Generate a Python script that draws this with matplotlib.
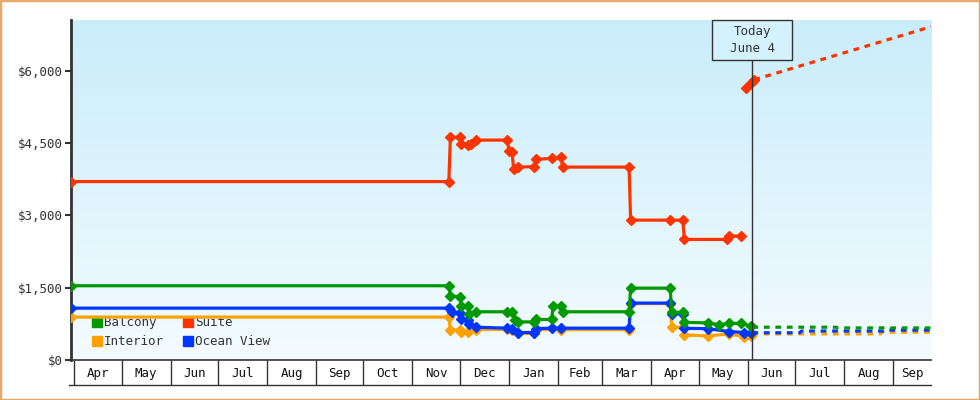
import matplotlib
matplotlib.use("Agg")
import matplotlib.pyplot as plt
import matplotlib.dates as mdates
from matplotlib.patches import Patch, Rectangle
from matplotlib.lines import Line2D
import numpy as np
import pandas as pd

# ---- price history ----
suite_dates = ["2022-03-30", "2022-11-24", "2022-11-25", "2022-12-01", "2022-12-02",
               "2022-12-06", "2022-12-08", "2022-12-11", "2022-12-31", "2023-01-01",
               "2023-01-03", "2023-01-04", "2023-01-07", "2023-01-17", "2023-01-18",
               "2023-01-28", "2023-02-03", "2023-02-04", "2023-03-18", "2023-03-19",
               "2023-04-13", "2023-04-21", "2023-04-22", "2023-05-19", "2023-05-20",
               "2023-05-28"]
suite_prices = [3700, 3700, 4620, 4620, 4480, 4460, 4480, 4560, 4560, 4340,
                4320, 3960, 4000, 4010, 4160, 4180, 4200, 4000, 4000, 2900,
                2900, 2900, 2500, 2500, 2570, 2570]

balcony_dates = ["2022-03-30", "2022-11-24", "2022-11-25", "2022-12-01", "2022-12-02",
                 "2022-12-06", "2022-12-07", "2022-12-11", "2022-12-31", "2023-01-03",
                 "2023-01-05", "2023-01-07", "2023-01-17", "2023-01-18", "2023-01-28",
                 "2023-01-29", "2023-02-03", "2023-02-04", "2023-03-18", "2023-03-19",
                 "2023-04-13", "2023-04-14", "2023-04-21", "2023-04-22", "2023-05-07",
                 "2023-05-14", "2023-05-20", "2023-05-28", "2023-06-03"]
balcony_prices = [1540, 1540, 1330, 1310, 1110, 1110, 960, 1000, 1000, 1000,
                  820, 790, 790, 840, 840, 1110, 1110, 1000, 1000, 1490,
                  1490, 990, 990, 780, 770, 730, 760, 760, 700]

ocean_dates = ["2022-03-30", "2022-11-24", "2022-11-26", "2022-12-01", "2022-12-02",
               "2022-12-06", "2022-12-07", "2022-12-11", "2022-12-31", "2023-01-03",
               "2023-01-07", "2023-01-17", "2023-01-18", "2023-01-28", "2023-02-03",
               "2023-03-18", "2023-03-19", "2023-04-13", "2023-04-14", "2023-04-21",
               "2023-04-22", "2023-05-07", "2023-05-20", "2023-05-30", "2023-06-03"]
ocean_prices = [1075, 1075, 1000, 970, 845, 830, 740, 680, 660, 650,
                570, 570, 650, 660, 660, 660, 1180, 1180, 960, 960,
                657, 650, 590, 570, 560]

interior_dates = ["2022-03-30", "2022-11-24", "2022-11-25", "2022-12-01", "2022-12-02",
                  "2022-12-06", "2022-12-11", "2022-12-31", "2023-01-03", "2023-01-07",
                  "2023-01-17", "2023-01-18", "2023-02-03", "2023-03-18", "2023-03-19",
                  "2023-04-13", "2023-04-14", "2023-04-21", "2023-04-22", "2023-05-07",
                  "2023-05-20", "2023-05-30", "2023-06-03"]
interior_prices = [890, 890, 620, 620, 590, 590, 630, 635, 630, 550,
                   550, 630, 630, 630, 1170, 1170, 675, 675, 520, 500,
                   540, 485, 500]

# ---- forecast (dashed) ----
suite_fc_dates = ["2023-05-31", "2023-06-03", "2023-06-05", "2023-09-25"]
suite_fc_prices = [5650, 5740, 5810, 6910]
balcony_fc_dates = ["2023-06-04", "2023-07-27", "2023-07-28", "2023-09-25"]
balcony_fc_prices = [680, 680, 665, 665]
ocean_fc_dates = ["2023-06-04", "2023-07-04", "2023-07-05", "2023-08-26", "2023-08-27", "2023-09-25"]
ocean_fc_prices = [565, 565, 600, 600, 620, 620]
interior_fc_dates = ["2023-06-04", "2023-08-24", "2023-08-25", "2023-09-25"]
interior_fc_prices = [540, 540, 575, 575]

today = "2023-06-04"
today_label = "Today\nJune 4"
y_ticks = [0, 1500, 3000, 4500, 6000]
y_tick_labels = ["$0", "$1,500", "$3,000", "$4,500", "$6,000"]
x_start, x_end = "2022-03-30", "2023-09-25"
month_starts = pd.date_range("2022-04-01", "2023-09-01", freq="MS")

series = [
    ("Interior", "#ffa200", interior_dates, interior_prices, interior_fc_dates, interior_fc_prices),
    ("Ocean View", "#0036ff", ocean_dates, ocean_prices, ocean_fc_dates, ocean_fc_prices),
    ("Balcony", "#009a00", balcony_dates, balcony_prices, balcony_fc_dates, balcony_fc_prices),
    ("Suite", "#ff3300", suite_dates, suite_prices, suite_fc_dates, suite_fc_prices),
]

plt.rcParams["font.family"] = ["DejaVu Sans Mono"]
txt = "#333333"

fig = plt.figure(figsize=(9.8, 4.0), dpi=100)
ax = fig.add_axes([71 / 980, 40 / 400, 860 / 980, 340 / 400])

# background gradient
grad = np.linspace(0, 1, 256).reshape(-1, 1)
top_c = np.array([0.79, 0.93, 0.985])
bot_c = np.array([0.955, 0.985, 1.0])
img = top_c * (1 - grad[..., None]) + bot_c * grad[..., None]
ax.imshow(img, extent=[0, 1, 0, 1], transform=ax.transAxes, aspect="auto", zorder=0)

for name, col, d, p, fd, fp in series:
    ax.plot(pd.to_datetime(d), p, color=col, lw=2.3, marker="D", ms=5, zorder=3)
    ax.plot(pd.to_datetime(fd), fp, color=col, lw=2.3, ls=(0, (1.8, 1.8)), zorder=3)
    if name == "Suite":
        ax.plot(pd.to_datetime(fd[:3]), fp[:3], color=col, lw=2.3, marker="D", ms=5, zorder=3)

ax.set_xlim(pd.Timestamp(x_start), pd.Timestamp(x_end))
ax.set_ylim(0, 7050)

# y axis
ax.set_yticks(y_ticks)
ax.set_yticklabels(y_tick_labels, fontsize=9, color=txt)
ax.tick_params(axis="y", length=4, width=1.5, color=txt, pad=2)

# x axis as a row of month cells
ax.set_xticks(month_starts)
ax.set_xticklabels([])
ax.tick_params(axis="x", which="major", length=18, width=1, color=txt)
edges = list(month_starts) + [pd.Timestamp(x_end)]
mids = [edges[i] + (edges[i + 1] - edges[i]) / 2 for i in range(len(month_starts))]
ax.set_xticks(mids, minor=True)
ax.set_xticklabels([m.strftime("%b") for m in month_starts], minor=True, fontsize=9, color="#111")
ax.tick_params(axis="x", which="minor", length=0, pad=5)
ax.add_line(Line2D([-0.002, 1], [-25 / 340, -25 / 340], transform=ax.transAxes,
                   color=txt, lw=1, clip_on=False))

for s in ["top", "right"]:
    ax.spines[s].set_visible(False)
ax.spines["left"].set_color(txt)
ax.spines["left"].set_linewidth(2)
ax.spines["bottom"].set_color(txt)
ax.spines["bottom"].set_linewidth(1.2)

# today marker
x0, x1 = mdates.date2num(pd.Timestamp(x_start)), mdates.date2num(pd.Timestamp(x_end))
tx = (mdates.date2num(pd.Timestamp(today)) - x0) / (x1 - x0)
ax.axvline(pd.Timestamp(today), ymin=0, ymax=(340 - 40) / 340, color=txt, lw=1, zorder=4)
ax.add_patch(Rectangle((tx - 40 / 860, 1 - 40 / 340), 80 / 860, 40 / 340, transform=ax.transAxes,
                       facecolor="#d4f2fd", edgecolor=txt, lw=1, zorder=5, clip_on=False))
ax.text(tx, 1 - 20 / 340, today_label, transform=ax.transAxes, ha="center", va="center",
        fontsize=9, color=txt, linespacing=1.5, zorder=6)

# legend
handles = [Patch(color=c) for _, c, *_ in series]
by_name = {n: h for (n, *_), h in zip(series, handles)}
order = ["Balcony", "Interior", "Suite", "Ocean View"]
leg = ax.legend([by_name[n] for n in order], order, ncol=2, loc="lower left",
                bbox_to_anchor=(0.024, 0.035), frameon=False, fontsize=9,
                handlelength=0.8, handleheight=0.8, handletextpad=0.15,
                labelspacing=0.45, columnspacing=1.55, borderpad=0, borderaxespad=0)
for t in leg.get_texts():
    t.set_color(txt)
leg.set_zorder(2)

fig.patches.append(Rectangle((0, 0), 1, 1, transform=fig.transFigure, fill=False,
                             edgecolor="#e6a96b", lw=2.5))

fig.savefig("out.png", dpi=100)
